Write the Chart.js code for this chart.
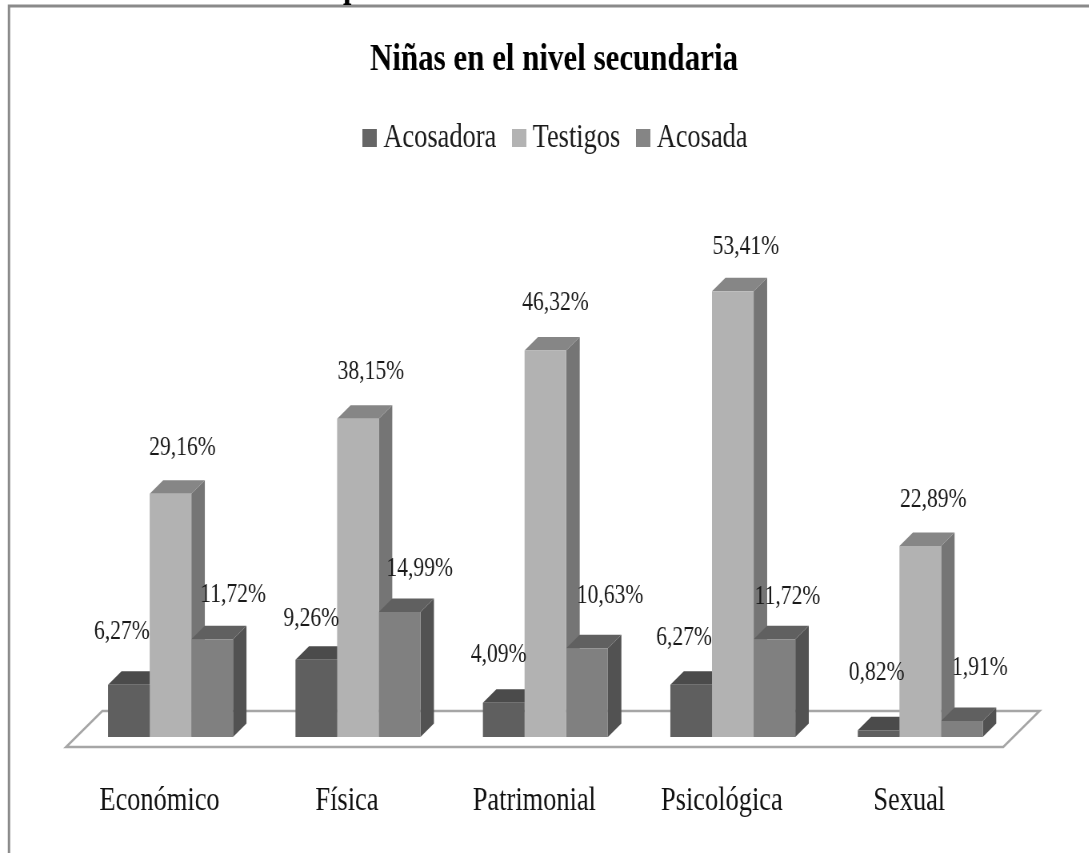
<!DOCTYPE html>
<html lang="es">
<head>
<meta charset="utf-8">
<title>Niñas en el nivel secundaria</title>
<style>
html,body{margin:0;padding:0;width:1089px;height:853px;overflow:hidden;background:#fff}
#c{position:absolute;left:0;top:0;transform-origin:0 0;transform:scaleX(.8);filter:blur(.35px)}
</style>
<script src="https://cdn.jsdelivr.net/npm/chart.js@4/dist/chart.umd.min.js"></script>
</head>
<body>
<canvas id="c" width="1361" height="853"></canvas>
<script>
const categories = ["Económico", "Física", "Patrimonial", "Psicológica", "Sexual"];
const acosadora = [6.27, 9.26, 4.09, 6.27, 0.82];
const testigos = [29.16, 38.15, 46.32, 53.41, 22.89];
const acosada = [11.72, 14.99, 10.63, 11.72, 1.91];
const seriesNames = ["Acosadora", "Testigos", "Acosada"];
const titleText = "Niñas en el nivel secundaria";

const frontColors = ["#5f5f5f", "#b2b2b2", "#808080"];
const topColors = ["#4b4b4b", "#868686", "#606060"];
const sideColors = ["#4b4b4b", "#757575", "#525252"];
const legendColors = ["#666666", "#b3b3b3", "#858585"];

// screen squeeze of the canvas; layout constants are written in canvas units
const SQ = 0.8;
const DEPTH_X = 13.5 / SQ, DEPTH_Y = 13.5;
const FONT = "'Liberation Serif'";
const LEGEND_SHIFT = 4.5 / SQ;
// hand placement of each value label relative to its bar (screen px)
const nudgeX = [[-7,-5,-5,-7,-2],[12,13,10,13,13],[21,20,23,13,18]];
const nudgeY = [[-53,-41,-48,-47,-57],[-46,-47,-48,-44,-46],[-44,-43,-52,-42,-53]];

function swatch(color){
  const s = document.createElement('canvas');
  s.width = 18; s.height = 18;
  const g = s.getContext('2d');
  g.fillStyle = color; g.fillRect(0,0,18,18);
  return s;
}
const swatches = legendColors.map(swatch);

const bars3d = {
  id:'bars3d',
  afterLayout(chart){
    chart.legend.left += LEGEND_SHIFT;
    chart.legend.right += LEGEND_SHIFT;
  },
  beforeDatasetsDraw(chart){
    const {ctx, chartArea:a, scales:{y}} = chart;
    const base = y.getPixelForValue(0);
    // floor
    ctx.save();
    ctx.beginPath();
    ctx.moveTo(a.left - 10.75/SQ, base + 10);
    ctx.lineTo(a.right - 10.75/SQ, base + 10);
    ctx.lineTo(a.right + 25.5/SQ, base - 26);
    ctx.lineTo(a.left + 25.5/SQ, base - 26);
    ctx.closePath();
    ctx.fillStyle = '#ffffff'; ctx.fill();
    ctx.lineWidth = 2.5; ctx.strokeStyle = '#a6a6a6'; ctx.stroke();
    // tops and sides, left to right so later ones cover earlier ones
    chart.data.labels.forEach((_, i) => {
      chart.data.datasets.forEach((ds, d) => {
        const b = chart.getDatasetMeta(d).data[i];
        const L = b.x - b.width/2, R = b.x + b.width/2, T = b.y, B = b.base;
        ctx.fillStyle = sideColors[d];
        ctx.beginPath();
        ctx.moveTo(R,T); ctx.lineTo(R+DEPTH_X,T-DEPTH_Y); ctx.lineTo(R+DEPTH_X,B-DEPTH_Y); ctx.lineTo(R,B);
        ctx.closePath(); ctx.fill();
        ctx.fillStyle = topColors[d];
        ctx.beginPath();
        ctx.moveTo(L,T); ctx.lineTo(L+DEPTH_X,T-DEPTH_Y); ctx.lineTo(R+DEPTH_X,T-DEPTH_Y); ctx.lineTo(R,T);
        ctx.closePath(); ctx.fill();
      });
    });
    ctx.restore();
  },
  afterDatasetsDraw(chart){
    const {ctx} = chart;
    ctx.save();
    ctx.font = "27px " + FONT;
    ctx.fillStyle = '#1a1a1a';
    ctx.textAlign = 'center'; ctx.textBaseline = 'middle';
    chart.data.datasets.forEach((ds, d) => {
      chart.getDatasetMeta(d).data.forEach((b, i) => {
        const t = ds.data[i].toFixed(2).replace('.', ',') + '%';
        ctx.fillText(t, b.x + nudgeX[d][i]/SQ, b.y + nudgeY[d][i]);
      });
    });
    ctx.restore();
  },
  beforeDraw(chart){
    const {ctx, width, height} = chart;
    ctx.save();
    ctx.fillStyle = '#ffffff'; ctx.fillRect(0,0,width,height);
    ctx.strokeStyle = '#8a8a8a'; ctx.lineWidth = 3;
    ctx.beginPath();
    ctx.moveTo(width, 6); ctx.lineTo(9/SQ, 6); ctx.lineTo(9/SQ, height);
    ctx.stroke();
    // descender of the line of text cut off above the picture
    ctx.fillStyle = '#000';
    ctx.font = "bold 38px " + FONT;
    ctx.textAlign = 'left'; ctx.textBaseline = 'alphabetic';
    ctx.fillText('p', 343/SQ, -3);
    ctx.restore();
  }
};

new Chart(document.getElementById('c'), {
  type:'bar',
  data:{
    labels:categories,
    datasets:[
      {label:seriesNames[0], data:acosadora, backgroundColor:frontColors[0]},
      {label:seriesNames[1], data:testigos, backgroundColor:frontColors[1]},
      {label:seriesNames[2], data:acosada, backgroundColor:frontColors[2]}
    ]
  },
  plugins:[bars3d],
  options:{
    responsive:false,
    animation:false,
    devicePixelRatio:1,
    layout:{padding:{left:96,right:72,top:0,bottom:0}},
    datasets:{bar:{categoryPercentage:125/187.5,barPercentage:1,borderWidth:0}},
    plugins:{
      title:{display:true,text:titleText,color:'#000',
        font:{family:FONT,size:38.7,weight:'bold'},padding:{top:37,bottom:10}},
      legend:{display:true,position:'top',
        labels:{
          color:'#1a1a1a',font:{family:FONT,size:33},padding:28,
          usePointStyle:true,pointStyleWidth:1,
          generateLabels(chart){
            return Chart.defaults.plugins.legend.labels.generateLabels(chart)
              .map((it,i)=>Object.assign(it,{pointStyle:swatches[i]}));
          }
        }},
      tooltip:{enabled:false}
    },
    scales:{
      x:{grid:{display:false},border:{display:false},afterFit(s){s.height=116;},
        ticks:{color:'#111',font:{family:FONT,size:33},padding:37,labelOffset:-11/SQ,maxRotation:0,autoSkip:false}},
      y:{position:'right',min:0,max:68.62,grid:{display:false},border:{display:false},
        ticks:{display:false},afterFit(s){s.width=21.5;}}
    }
  }
});
</script>
</body>
</html>
